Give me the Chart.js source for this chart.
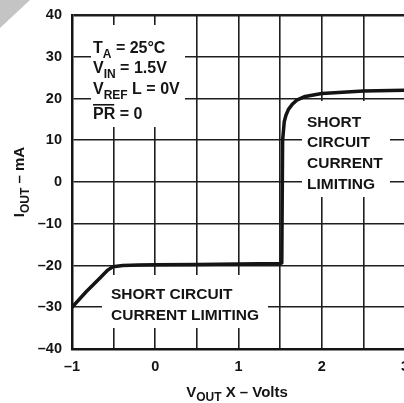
<!DOCTYPE html>
<html>
<head>
<meta charset="utf-8">
<script src="https://cdn.jsdelivr.net/npm/chart.js@4"></script>
<style>
html,body{margin:0;padding:0;background:#fff;overflow:hidden;width:404px;height:403px;}
#wrap{position:absolute;left:0;top:0;width:410px;height:403px;}
</style>
</head>
<body>
<div id="wrap"><canvas id="c"></canvas></div>
<script>
// ---- data ----
const vOut = [-1, -0.83, -0.67, -0.57, -0.51, -0.39, -0.2, 0, 0.5, 1, 1.5, 1.52, 1.53, 1.55, 1.57, 1.6, 1.65, 1.7, 1.8, 2, 2.5, 3];
const iOut = [-30, -26.3, -23.1, -21.1, -20.3, -20, -19.9, -19.85, -19.75, -19.65, -19.5, -19.4, 10, 14.5, 16, 17.4, 18.7, 19.6, 20.5, 21.2, 21.8, 22];
const xTickLabels = [-1, 0, 1, 2, 3];
const yTickLabels = [-40, -30, -20, -10, 0, 10, 20, 30, 40];
const noteTopLeft = [
  [{t:'T'},{t:'A',sub:true},{t:' = 25°C'}],
  [{t:'V'},{t:'IN',sub:true},{t:' = 1.5V'}],
  [{t:'V'},{t:'REF',sub:true},{t:' L = 0V'}],
  [{t:'PR',over:true},{t:' = 0'}]
];
const noteRight = ['SHORT', 'CIRCUIT', 'CURRENT', 'LIMITING'];
const noteBottom = ['SHORT CIRCUIT', 'CURRENT LIMITING'];
const yTitle = [{t:'I'},{t:'OUT',sub:true},{t:' – mA'}];
const xTitle = [{t:'V'},{t:'OUT',sub:true},{t:' X – Volts'}];

const FONT = '"Liberation Sans", Arial, sans-serif';
const INK = '#141414';
const fmt = v => (v < 0 ? '–' + Math.abs(v) : String(v));

function richWidth(ctx, parts, size, subSize){
  let w = 0;
  for (const p of parts){
    ctx.font = 'bold ' + (p.sub ? subSize : size) + 'px ' + FONT;
    w += ctx.measureText(p.t).width;
  }
  return w;
}
function drawRich(ctx, parts, x, y, size, subSize){
  let cx = x;
  for (const p of parts){
    ctx.font = 'bold ' + (p.sub ? subSize : size) + 'px ' + FONT;
    const w = ctx.measureText(p.t).width;
    ctx.fillText(p.t, cx, p.sub ? y + 4.5 : y);
    if (p.over){
      ctx.fillRect(cx, y - size * 0.72 - 3.5, w - 1, 1.6);
    }
    cx += w;
  }
}

const annot = {
  id: 'annot',
  beforeDatasetsDraw(chart){
    const ctx = chart.ctx;
    ctx.save();
    ctx.fillStyle = '#fff';
    ctx.fillRect(91, 25, 94, 102);
    ctx.fillRect(302, 101, 88, 96);
    ctx.fillRect(102, 275, 166, 53);
    ctx.fillStyle = INK;
    ctx.textBaseline = 'alphabetic';
    ctx.textAlign = 'left';
    const base1 = [53, 73, 94, 119];
    noteTopLeft.forEach((ln, i) => drawRich(ctx, ln, 93, base1[i], 16, 12));
    ctx.font = 'bold 15.5px ' + FONT;
    const base2 = [126.5, 147, 167.5, 188.5];
    noteRight.forEach((s, i) => ctx.fillText(s, 307, base2[i]));
    const base3 = [299, 319.5];
    noteBottom.forEach((s, i) => ctx.fillText(s, 111, base3[i]));
    ctx.restore();
  },
  afterDraw(chart){
    const ctx = chart.ctx;
    ctx.save();
    ctx.fillStyle = INK;
    ctx.textBaseline = 'alphabetic';
    // x title
    const wx = richWidth(ctx, xTitle, 15, 12);
    drawRich(ctx, xTitle, 237 - wx / 2, 396.5, 15, 12);
    // y title
    const wy = richWidth(ctx, yTitle, 15, 12);
    ctx.translate(24, 182);
    ctx.rotate(-Math.PI / 2);
    drawRich(ctx, yTitle, -wy / 2, 0, 15, 12);
    ctx.restore();
    // scan corner
    ctx.save();
    ctx.fillStyle = '#c4c4c4';
    ctx.beginPath();
    ctx.moveTo(0, 0); ctx.lineTo(30, 0); ctx.lineTo(0, 28); ctx.closePath();
    ctx.fill();
    ctx.restore();
  }
};

new Chart(document.getElementById('c'), {
  type: 'line',
  data: {
    datasets: [{
      data: vOut.map((x, i) => ({x, y: iOut[i]})),
      borderColor: INK,
      borderWidth: 3.5,
      pointRadius: 0,
      tension: 0,
      borderJoinStyle: 'round',
      fill: false
    }]
  },
  options: {
    responsive: true,
    maintainAspectRatio: false,
    animation: false,
    events: [],
    layout: {padding: {left: 0, right: 5, top: 15, bottom: 0}},
    plugins: {legend: {display: false}, tooltip: {enabled: false}},
    scales: {
      x: {
        type: 'linear', min: -1, max: 3,
        grid: {color: '#1e1e1e', lineWidth: 1.6, drawTicks: false},
        border: {color: INK, width: 2.5},
        ticks: {
          stepSize: 0.5, autoSkip: false, maxRotation: 0, padding: 9,
          color: INK, font: {family: FONT, size: 14.5, weight: 'bold'},
          callback: v => xTickLabels.includes(v) ? fmt(v) : ''
        },
        afterFit: s => { s.height = 54; s.paddingLeft = 0; s.paddingRight = 0; }
      },
      y: {
        min: -40, max: 40,
        grid: {color: '#1e1e1e', lineWidth: c => (c.tick && c.tick.value === 40 ? 2.5 : 1.6), drawTicks: false},
        border: {color: INK, width: 2.5},
        ticks: {
          stepSize: 10, padding: 10,
          color: INK, font: {family: FONT, size: 14.5, weight: 'bold'},
          callback: v => yTickLabels.includes(v) ? fmt(v) : ''
        },
        afterFit: s => { s.width = 72; s.paddingTop = 0; s.paddingBottom = 0; }
      }
    }
  },
  plugins: [annot]
});
</script>
</body>
</html>
